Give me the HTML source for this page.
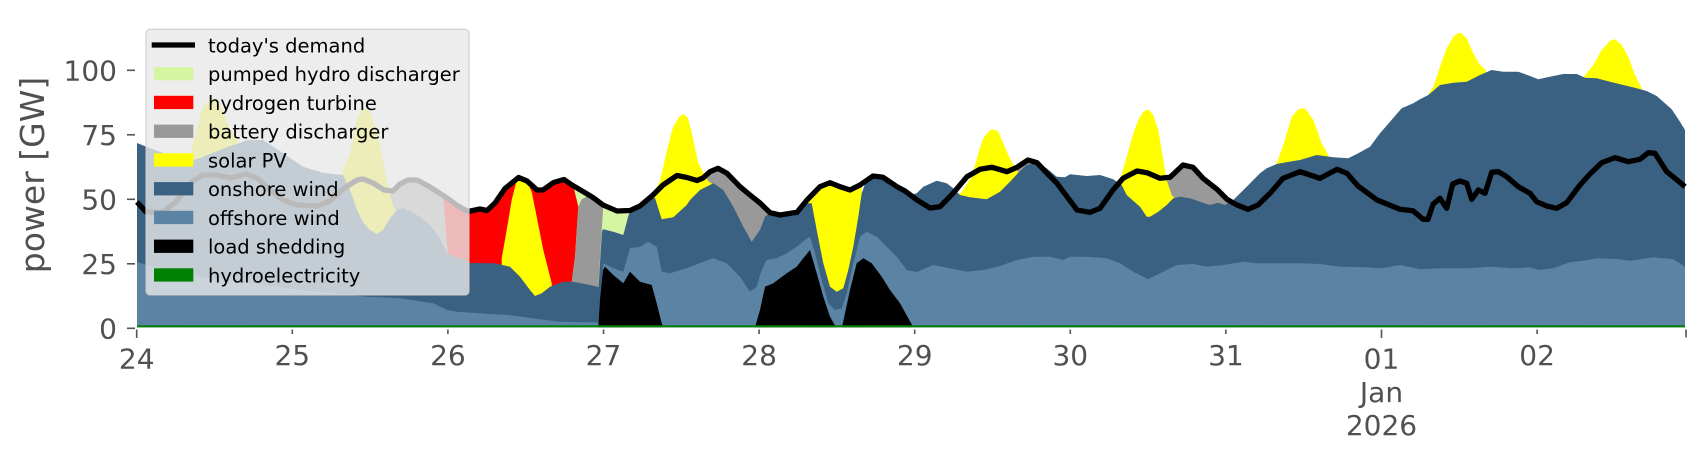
<!DOCTYPE html>
<html><head><meta charset="utf-8"><style>
html,body{margin:0;padding:0;background:#fff;}
svg{display:block;}
text{font-family:"DejaVu Sans","Liberation Sans",sans-serif;}
</style></head><body>
<svg width="1706" height="460" viewBox="0 0 1706 460" xmlns="http://www.w3.org/2000/svg">
<rect width="1706" height="460" fill="#fff"/>
<!-- pumped hydro -->
<path fill="#d6f5a3" d="M570,327.3 L570,184.5 L572,185 L583,191.5 L593,197.5 L603,205 L617,211 L628.3,210.6 L628.3,327.3 Z"/>
<!-- hydrogen -->
<path fill="#ff0000" d="M440,327.3 L440,195 L447,198 L458,206 L468,211.5 L480,209 L487,210.5 L495,203 L505,188.5 L518.5,177.5 L527,181 L537,190 L543,190 L553.5,182.5 L564,179.5 L572,185 L573.3,186 L578.3,206.7 L575,256.7 L571.7,282 L571.7,327.3 Z"/>
<!-- battery -->
<g fill="#999999">
<path d="M386,327.3 L386,189.5 L393,191 L400,184 L408,180 L417,180 L430,187 L443,196 L448,255 L448,327.3 Z"/>
<path d="M571.7,327.3 L571.7,282 L575,256.7 L578.3,206.7 L582,199 L588,196 L593,198.5 L600,202.5 L603.3,204.5 L598.3,287 L598.3,327.3 Z"/>
<path d="M700,327.3 L700,180.5 L703,178 L710,171.7 L718,168.3 L727,173.3 L740,186.7 L750,195 L760,203 L770,212.7 L770,327.3 Z"/>
<path d="M1164,327.3 L1164,180 L1170,177.3 L1183,165 L1193,167.3 L1203,178.3 L1217,189.3 L1227,199.3 L1233,203 L1233,327.3 Z"/>
<path d="M1012,327.3 L1012,170 L1017,167.3 L1028,160 L1037,162.7 L1040,327.3 Z"/>
</g>
<!-- solar -->
<g fill="#ffff00">
<path d="M188,327.3 L188,161.5 L196.7,130 L203,106.7 L211.7,97.5 L220,103 L230,130 L240,145 L242,327.3 Z"/>
<path d="M341,327.3 L341,175 L350,153 L356.7,120 L363.3,107.5 L370,111 L378.3,136.7 L386.7,180 L393.3,206.7 L397,212 L398,327.3 Z"/>
<path d="M501.7,327.3 L501.7,258.3 L506.7,230 L511.7,200 L516,183 L518.5,177 L523,178.5 L527,181 L531.7,191.7 L536.7,216.7 L543.3,250 L551.7,283.3 L553,327.3 Z"/>
<path d="M652,327.3 L652,196 L660,181 L667,150 L673,127 L679,117 L683,114 L688,118 L693,138 L698,162 L702,170 L705,176 L709,182 L713,184 L713,327.3 Z"/>
<path d="M806,327.3 L806,201 L807,200 L820,186.7 L830,182.7 L840,186.7 L850,190 L860,185 L862,184.5 L862,327.3 Z"/>
<path d="M958,327.3 L958,195 L961.7,192 L971.7,176.7 L978.3,153.3 L983.3,138.3 L990,130 L993.3,129.3 L998.3,131.7 L1003.3,143.3 L1008.3,155 L1015,168.3 L1020,173.5 L1022,327.3 Z"/>
<path d="M1117,327.3 L1117,181 L1120,180 L1126.7,156.7 L1133.3,133.3 L1138.3,120 L1143.3,111.7 L1148.3,109.3 L1153.3,115 L1158.3,130 L1163.3,160 L1166.7,180 L1171.7,195 L1175,198.5 L1176,327.3 Z"/>
<path d="M1270,327.3 L1270,170.5 L1276.7,163.3 L1283.3,145 L1291.7,116.7 L1298.3,109.3 L1305,108.3 L1313.3,120 L1321.7,143.3 L1328.3,155 L1330,327.3 Z"/>
<path d="M1428,327.3 L1428,95 L1433.3,86.7 L1440,66.7 L1446.7,48.3 L1453.3,36.7 L1458,33 L1461,33 L1466.7,38.3 L1473.3,53.3 L1480,65 L1486,70 L1487,327.3 Z"/>
<path d="M1583,327.3 L1583,77.6 L1593.3,65 L1601.7,50 L1610,40.7 L1615,39.3 L1621.7,45 L1628.3,56.7 L1635,75 L1641.7,88.3 L1645,327.3 Z"/>
</g>
<!-- onshore wind -->
<polygon fill="#3b6182" points="137,327.3 137,143 147,147 163,153 178,158 190,161 200,158 215,152 230,146 240,143 247,140 263,140 283,153 303,166.7 323,172.7 343,175 350,190 357,210 363,222 370,230 377,234 383,230 390,218 397,210 403,208 412,212 420,217 430,225 437,234 443,245 447,253 455,257 463,259 470,263 495,263.3 510,266.7 520,276.7 530,290 535,296 541.7,293.3 550,286.7 563,281.7 573,281.7 585,284 598.5,287 602,231 603.3,229.3 613.3,231.7 623.3,235 628.3,216 630,210.5 640,206 650,197 655,198 661.7,219.3 673.3,217.3 686.7,205 690,200 700,190 713.3,183.3 723.3,190 733.3,206.7 743.3,226.7 751.7,241.7 760,230 765,216.7 770,212.7 780,215 797,212.3 805,203.3 811.7,203.3 816.7,230 823.3,263.3 830,286.7 836.7,291.7 843.3,288.3 848.3,270 853.3,246.7 858.3,216.7 861.7,193.3 866.7,179.3 876.7,176 890,183.3 900,190 910,195 916.7,193.3 923.3,186.7 936.7,180.7 946.7,183.3 953.3,188.3 960,195 970,197.3 986.7,199.3 1000,191.7 1010,181.7 1018.3,172.7 1026.7,165 1036.7,162.7 1046.7,168.3 1056.7,176.7 1065,177.3 1070,174.3 1086.7,176 1100,175 1113.3,179.3 1121.7,185 1126.7,195 1140,206.7 1146.7,216.7 1150,216.7 1158.3,211.7 1166.7,205 1173.3,198.3 1180,196.7 1190,198.3 1200,201.7 1210,205 1218.3,202.7 1225,205 1233.3,200 1246.7,186.7 1260,173.3 1266.7,168.3 1276.7,164 1293.3,161 1300,160 1316.7,155 1333.3,157.3 1348.3,158.3 1358.3,153.3 1370,146.7 1380,133.3 1390,121.7 1401.7,108.3 1413.3,103.3 1420,99.3 1428.3,95 1440,85 1453.3,82.7 1466.7,81.7 1480,75 1491.7,70 1503.3,71.7 1518.3,71.7 1530,76 1538.3,79.3 1553.3,76 1563.3,74 1576.7,74 1585,77.7 1596.7,78.3 1610,81.7 1623.3,85 1636.7,88.3 1646.7,91 1656.7,96 1671.7,109.3 1680,121.7 1685,130 1685,327.3"/>
<!-- offshore wind -->
<polygon fill="#5b83a4" points="137,327.3 137,262 150,266 200,276.7 250,283 300,290 333,293 367,296.7 400,298.3 433,303.3 447,310 457,311.7 490,314 508,315 540,319.3 559,321.7 598.5,322.5 603.3,263.3 613.3,268.3 623.3,271.7 630,248.3 640,246.7 648.3,241.7 656.7,246.7 661.7,271.7 670,273.3 686.7,268.3 700,263 713.3,258.3 726.7,263.3 740,276.7 750,291.7 756.7,286.7 761.7,270 766.7,260 776.7,258.3 786.7,253.3 796.7,246.7 805,240 810,236.7 815,253.3 821.7,280 828.3,303.3 835,310 841.7,308.3 846.7,293.3 853.3,263.3 860,236.7 866.7,231.7 876.7,236.7 886.7,246.7 896.7,256.7 906.7,270 916.7,272 933.3,265 950,268.3 966.7,271.7 983.3,270 1000,266 1016.7,260 1033.3,256.7 1050,256.7 1063.3,260 1070,256.7 1086.7,256.7 1106.7,258.3 1120,263.3 1133.3,271.7 1148.3,279.3 1160,273.3 1176.7,265 1193.3,264 1206.7,266.7 1223.3,265 1243.3,261.7 1256.7,263.3 1283.3,263.3 1300,263.3 1320,264 1340,266.7 1366.7,267.3 1381.7,268.3 1400,265 1420,269.3 1440,268.3 1466.7,268.3 1490,266.7 1513.3,268.3 1530,267.3 1538.3,270 1553.3,268.3 1570,262.3 1583.3,260.7 1596.7,258.3 1616.7,259 1630,260.7 1653.3,257.3 1673.3,259.3 1685,266.7 1685,327.3"/>
<!-- load shedding -->
<g fill="#000">
<path d="M598.3,327.3 L600,300 L603,270 L605,266.7 L613.3,275 L623.3,283.3 L630,271.7 L640,281.7 L651.7,285 L656.7,303.3 L661.7,323.3 L663.3,327.3 Z"/>
<path d="M755,327.3 L760,310 L765,286.7 L773.3,283.3 L786.7,273.3 L796.7,266.7 L803.3,258.3 L810,250 L816.7,273.3 L823.3,296.7 L830,316.7 L836,327.3 Z"/>
<path d="M842,327.3 L850,290 L856.7,263.3 L863.3,258.3 L871.7,263.3 L881.7,276.7 L890,290 L900,303.3 L913.3,327.3 Z"/>
</g>
<!-- hydro -->
<rect x="137" y="325.3" width="1548" height="2" fill="#008000"/>
<!-- demand -->
<polyline fill="none" stroke="#000" stroke-width="5.3" stroke-linejoin="round" points="137,202 146,212 163,212 176,202 190,183 203,175 216,175 230,178 246,174 257,178 270,190 283,200 297,205 317,206 330,201 343,189 357,180 363,179 373,183 384,190 393,191 400,184 408,180 417,180 430,187 447,198 458,206 468,211.5 480,209 487,210.5 495,203 505,188.5 518.5,177.5 527,181 537,190 543,190 553.5,182.5 564,179.5 572,185 583,191.5 593,197.5 603,205 617,211 630,210.5 640,206 653,195 663,185 677,175.5 687,177.5 697,180.5 703,178 710,171.7 718,168.3 727,173.3 740,186.7 750,195 760,203 770,212.7 780,215 797,212.3 807,200 820,186.7 830,182.7 840,186.7 850,190 860,185 873,176 883,177.3 897,186.7 905,191 917,200 930,208 940,206.7 953,193.3 967,176.7 980,169.3 992,167.3 1007,171.7 1017,167.3 1028,160 1037,162.7 1047,173.3 1057,183.3 1067,196.7 1077,210 1090,212.3 1100,208.3 1113,190 1123,178.3 1137,171 1147,172.7 1160,178.3 1170,177.3 1183,165 1193,167.3 1203,178.3 1217,189.3 1227,199.3 1237,205 1248,209.3 1258,205 1270,193.3 1283,178.3 1300,171.7 1320,178.3 1337,169.3 1347,173.3 1358,186 1377,200 1387,204 1400,209.3 1413,210.7 1423,219.3 1428,219.3 1433,204.3 1440,198.3 1446.7,208.3 1452.7,184 1460,181 1466.7,183.3 1471.7,199.3 1478.3,190 1485,193.3 1491.7,172.3 1498.3,171.7 1506.7,176.7 1518.3,186.7 1530,193.3 1536.7,201.7 1546.7,206 1556.7,208.3 1566.7,202.7 1580,185 1590,174 1601.7,162.7 1615,157.7 1628.3,161.7 1640,159.3 1648.3,152.7 1655,153.3 1666.7,171.7 1675,178.3 1685,186.7"/>

<!-- legend -->
<rect x="146" y="29.3" width="323" height="265.7" rx="4" ry="4" fill="#e8e8e8" fill-opacity="0.8" stroke="#cccccc" stroke-opacity="0.8" stroke-width="1.3"/>
<line x1="151.7" y1="45" x2="195" y2="45" stroke="#000" stroke-width="5.3"/>
<rect x="154" y="67.1" width="39.3" height="13.3" fill="#d6f5a3"/>
<rect x="154" y="95.8" width="39.3" height="13.3" fill="#ff0000"/>
<rect x="154" y="124.6" width="39.3" height="13.3" fill="#999999"/>
<rect x="154" y="153.3" width="39.3" height="13.3" fill="#ffff00"/>
<rect x="154" y="182.1" width="39.3" height="13.3" fill="#3b6182"/>
<rect x="154" y="210.8" width="39.3" height="13.3" fill="#5b83a4"/>
<rect x="154" y="239.6" width="39.3" height="13.3" fill="#000000"/>
<rect x="154" y="268.3" width="39.3" height="13.3" fill="#008000"/>
<g font-size="19.5" fill="#000">
<text x="208" y="52.3">today's demand</text>
<text x="208" y="81">pumped hydro discharger</text>
<text x="208" y="109.8">hydrogen turbine</text>
<text x="208" y="138.5">battery discharger</text>
<text x="208" y="167.3">solar PV</text>
<text x="208" y="196">onshore wind</text>
<text x="208" y="224.8">offshore wind</text>
<text x="208" y="253.5">load shedding</text>
<text x="208" y="282.3">hydroelectricity</text>
</g>

<!-- y axis -->
<g stroke="#555" stroke-width="1.6">
<line x1="127" y1="70.3" x2="135" y2="70.3"/>
<line x1="127" y1="134.8" x2="135" y2="134.8"/>
<line x1="127" y1="199.3" x2="135" y2="199.3"/>
<line x1="127" y1="263.8" x2="135" y2="263.8"/>
<line x1="127" y1="328.3" x2="135" y2="328.3"/>
</g>
<g font-size="28" fill="#505050" text-anchor="end">
<text x="117" y="80.6">100</text>
<text x="117" y="145.1">75</text>
<text x="117" y="209.6">50</text>
<text x="117" y="274.1">25</text>
<text x="117" y="338.6">0</text>
</g>
<text transform="translate(44,175) rotate(-90)" text-anchor="middle" font-size="33" fill="#505050">power [GW]</text>

<!-- x axis ticks -->
<g stroke="#555" stroke-width="1.6">
<line x1="136.7" y1="329.5" x2="136.7" y2="338"/>
<line x1="292.3" y1="329.5" x2="292.3" y2="334"/>
<line x1="447.9" y1="329.5" x2="447.9" y2="334"/>
<line x1="603.5" y1="329.5" x2="603.5" y2="334"/>
<line x1="759.1" y1="329.5" x2="759.1" y2="334"/>
<line x1="914.7" y1="329.5" x2="914.7" y2="334"/>
<line x1="1070.3" y1="329.5" x2="1070.3" y2="334"/>
<line x1="1225.9" y1="329.5" x2="1225.9" y2="334"/>
<line x1="1381.5" y1="329.5" x2="1381.5" y2="338"/>
<line x1="1537.1" y1="329.5" x2="1537.1" y2="334"/>
<line x1="1686" y1="329.5" x2="1686" y2="337.5"/>
</g>
<g font-size="28" fill="#505050" text-anchor="middle">
<text x="136.7" y="368.5">24</text>
<text x="292.3" y="365">25</text>
<text x="447.9" y="365">26</text>
<text x="603.5" y="365">27</text>
<text x="759.1" y="365">28</text>
<text x="914.7" y="365">29</text>
<text x="1070.3" y="365">30</text>
<text x="1225.9" y="365">31</text>
<text x="1381.5" y="368.5">01</text>
<text x="1381.5" y="402">Jan</text>
<text x="1381.5" y="435">2026</text>
<text x="1537.1" y="365">02</text>
</g>
</svg>
</body></html>
